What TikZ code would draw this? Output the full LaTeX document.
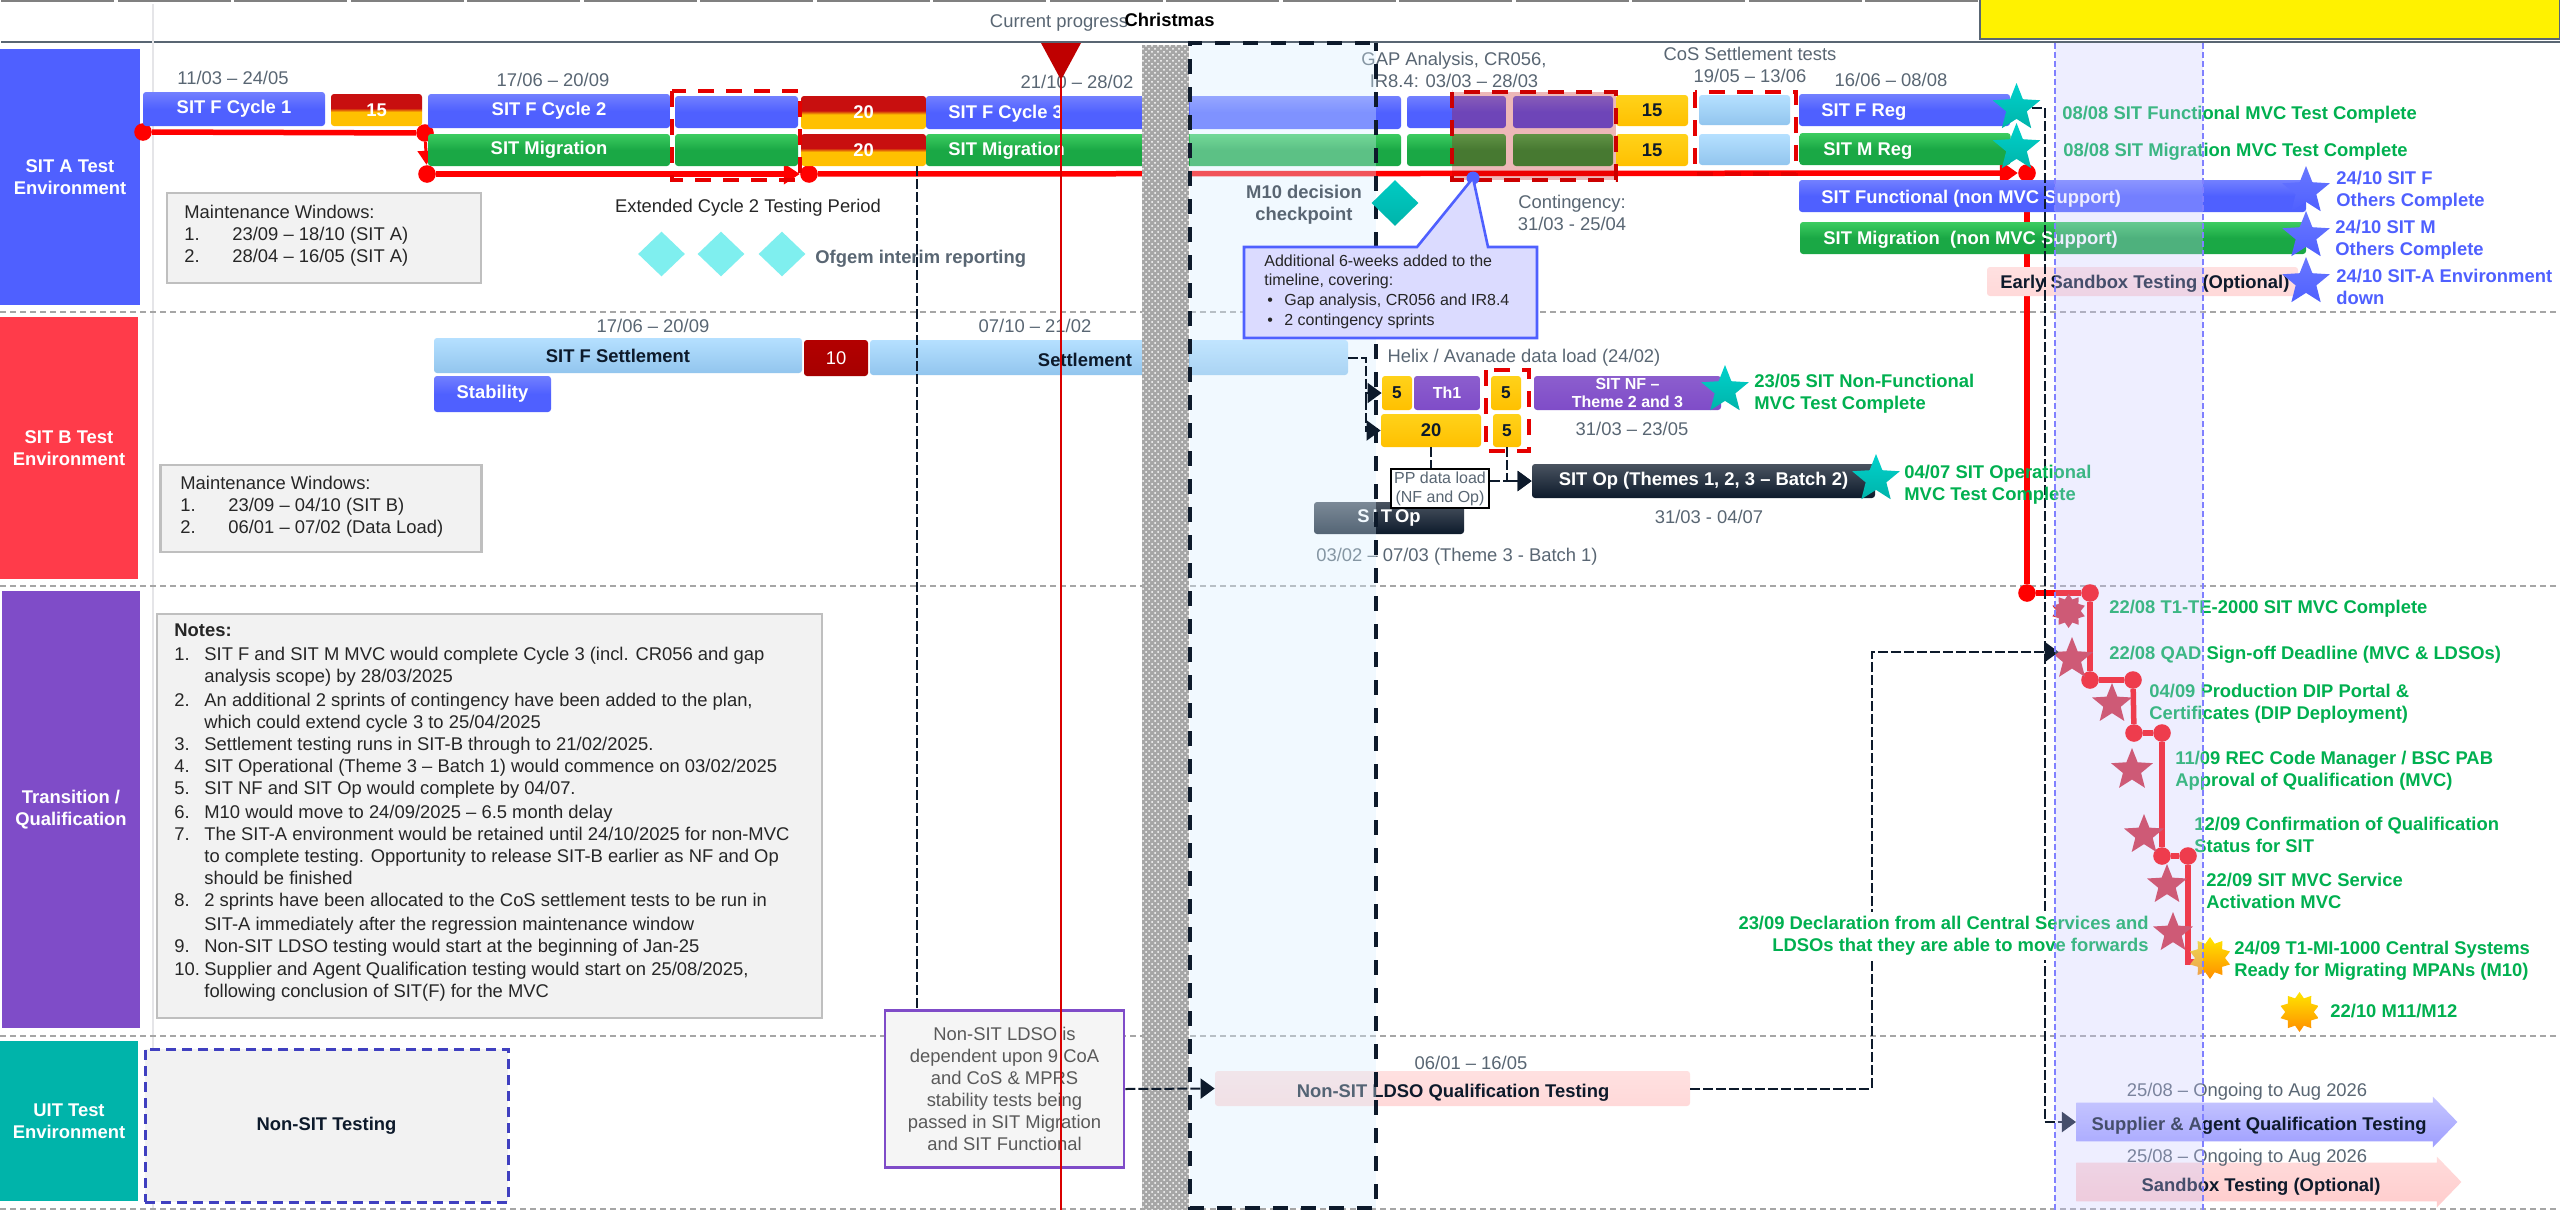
\documentclass[tikz,border=0pt]{standalone}
\usepackage{fontspec}
\setmainfont{Liberation Sans}
\usetikzlibrary{arrows.meta,patterns,shapes.geometric,shapes.arrows}
\definecolor{blueenv}{HTML}{4F60FF}
\definecolor{redenv}{HTML}{FF3B4A}
\definecolor{purpleenv}{HTML}{7F4CC8}
\definecolor{tealenv}{HTML}{00B4AA}
\definecolor{greenms}{HTML}{00B050}
\definecolor{slate}{HTML}{596673}
\definecolor{navy}{HTML}{0D1A2B}
\definecolor{hairline}{HTML}{A6A6A6}
\definecolor{redtop}{HTML}{C80F0F}
\definecolor{goldlow}{HTML}{FFC000}
\definecolor{goldtop}{HTML}{FFD21A}
\definecolor{greentop}{HTML}{3CCC60}
\definecolor{greenlow}{HTML}{1AA845}
\definecolor{skytop}{HTML}{B5E0FF}
\definecolor{skylow}{HTML}{92C5EE}
\definecolor{aqua}{HTML}{7FEFEF}
\definecolor{starred}{HTML}{D22C3C}
\definecolor{boxblue}{HTML}{4040C0}
\pgfdeclareverticalshading{redgold}{100bp}{color(0bp)=(goldlow); color(25bp)=(goldlow); color(47bp)=(goldlow); color(53bp)=(redtop); color(75bp)=(redtop); color(100bp)=(redtop)}
\tikzset{
  wh/.style 2 args={minimum width=#1*0.5pt,minimum height=#2*0.5pt},
  base/.style={font=\fontsize{9.2}{11}\selectfont,inner sep=0pt},
  small/.style={font=\fontsize{8}{9.5}\selectfont,inner sep=0pt},
  bold/.style={font=\fontsize{9.2}{11}\selectfont\bfseries,inner sep=0pt},
  datetext/.style={base,text=slate,align=center},
  envbox/.style={bold,text=white,align=center},
  pill/.style={bold,rounded corners=1.5pt,align=center},
  bluebar/.style={pill,text=white,top color=blueenv!80!white,bottom color=blueenv,middle color=blueenv},
  greenbar/.style={pill,text=white,top color=greentop,bottom color=greenlow,middle color=greenlow},
  lightbar/.style={pill,text=navy,top color=skytop,bottom color=skylow},
  goldbar/.style={pill,text=navy,top color=goldtop,bottom color=goldlow},
  purplebar/.style={pill,text=white,top color=purpleenv!90!white,bottom color=purpleenv},
  navybar/.style={pill,text=white,top color=navy!75!white,bottom color=navy},
  pinkbar/.style={pill,text=navy,top color=red!12!white,bottom color=red!15!white},
  mixbar/.style={pill,text=white,shading=redgold},
  darkredbar/.style={pill,text=white,top color=red!70!black,bottom color=red!65!black},
  whitelabel/.style={bold,text=white,anchor=west},
  notebox/.style={draw=black!25,line width=1.2pt,fill=black!5,inner sep=0pt},
  milestone/.style={bold,text=greenms,align=left,anchor=west},
  bluemark/.style={bold,text=blueenv,align=left,anchor=west},
  starmark/.style={star,star points=5,star point ratio=2.3,inner sep=0pt,minimum size=#1*1pt},
  tealstar/.style={starmark=#1,top color=tealenv!60!cyan,bottom color=tealenv},
  bluestar/.style={starmark=#1,top color=blueenv!85!white,bottom color=blueenv},
  redstar/.style={starmark=#1,fill=starred},
  burst/.style={star,star points=10,star point ratio=1.4,inner sep=0pt,minimum size=#1*1pt},
  redline/.style={red,line width=2.75pt},
  reddot/.style={circle,fill=red,inner sep=0pt,minimum size=8.8pt},
  redbox/.style={red!90!black,line width=1.6pt,dash pattern=on 8pt off 6pt},
  link/.style={navy,line width=1pt,dash pattern=on 5pt off 1.5pt},
  linktip/.style={link,-{Triangle[length=7pt,width=10pt]}},
  rowline/.style={hairline,line width=1pt,dash pattern=on 3pt off 2pt},
  bigarrow/.style={single arrow,inner xsep=0pt,inner ysep=9.5pt,single arrow head extend=3pt,single arrow tip angle=92}
}
\begin{document}
\begin{tikzpicture}[x=0.5pt,y=-0.5pt]
  \useasboundingbox[fill=white] (0,0) rectangle (2560,1210);

  \foreach \i in {0,...,16}
    \draw[black!50,line width=1pt] ({\i*116.5+1},0.5) -- ({\i*116.5+114},0.5);
  \draw[slate,line width=1.2pt] (1,42) -- (2560,42);
  \draw[blue!10!black!10,line width=0.8pt] (153,4) -- (153,1208);
  \foreach \y in {312,586,1036,1209}
    \draw[rowline] (0,\y) -- (2560,\y);
  \node[draw=slate,line width=1.2pt,fill=yellow,wh={580}{40}] (yellowbox) at (2270,19) {};

  \node[envbox,fill=blueenv,wh={140}{256}] (sita) at (70,177) {SIT A Test\\Environment};
  \node[envbox,fill=redenv,wh={138}{262}] (sitb) at (69,448) {SIT B Test\\Environment};
  \node[envbox,fill=purpleenv,wh={138}{437}] (transition) at (71,809.5) {Transition /\\Qualification};
  \node[envbox,fill=tealenv,wh={138}{160}] (uit) at (69,1121) {UIT Test\\Environment};

  \node[reddot] (dot1) at (143,132) {};
  \node[reddot] (dot2) at (425,133) {};
  \node[reddot] (dot3) at (427,174) {};
  \node[reddot] (dot4) at (809,174) {};
  \node[reddot] (dot5) at (2027,173) {};
  \node[reddot] (dot6) at (2027,593) {};
  \node[reddot] (dot7) at (2090,593) {};
  \node[reddot] (dot8) at (2090,680) {};
  \node[reddot] (dot9) at (2133,680) {};
  \node[reddot] (dot10) at (2134,733) {};
  \node[reddot] (dot11) at (2162,733) {};
  \node[reddot] (dot12) at (2162,856) {};
  \node[reddot] (dot13) at (2188,856) {};
  \coordinate (m10end) at (2205,962);
  \draw[redline] (dot1) -- (dot2);
  \draw[red,line width=1.5pt,-{Triangle[length=7pt,width=8pt]}] (dot2) -- (dot3);
  \draw[redline,-{Triangle[length=8pt,width=10pt]}] (dot3) -- (dot4);
  \draw[redline,-{Triangle[length=9pt,width=12pt]}] (dot4) -- (dot5);
  \draw[redline] (dot5) -- (dot6);
  \draw[redline] (dot6) -- (dot7);
  \draw[redline] (dot7) -- (dot8);
  \draw[redline] (dot8) -- (dot9);
  \draw[redline] (dot9) -- (dot10);
  \draw[redline] (dot10) -- (dot11);
  \draw[redline] (dot11) -- (dot12);
  \draw[redline] (dot12) -- (dot13);
  \draw[redline] (dot13) |- (m10end);

  \node[datetext] (dateone) at (233,78) {11/03 – 24/05};
  \node[datetext] (datetwo) at (553,80) {17/06 – 20/09};
  \node[datetext] (datethree) at (1077,82) {21/10 – 28/02};
  \node[datetext] (gapdate) at (1454,70) {GAP Analysis, CR056,\\[0pt]IR8.4: 03/03 – 28/03};
  \node[datetext] (cosdate) at (1750,65) {CoS Settlement tests\\19/05 – 13/06};
  \node[datetext] (regdate) at (1891,80) {16/06 – 08/08};

  \node[bluebar,wh={182}{34}] (cycleone) at (234,109) {SIT F Cycle 1};
  \node[mixbar,wh={91}{32}] (fifteena) at (376.5,110) {\raisebox{-1.5pt}{15}};
  \node[bluebar,wh={242}{34}] (cycletwo) at (549,111) {SIT F Cycle 2};
  \node[greenbar,wh={242}{32}] (migtwo) at (549,150) {SIT Migration};
  \node[bluebar,wh={123}{32}] (extblue) at (736.5,112) {};
  \node[greenbar,wh={123}{32}] (extgreen) at (736.5,150) {};
  \node[mixbar,wh={125}{33}] (twentya) at (863.5,112.5) {\raisebox{-1.5pt}{20}};
  \node[mixbar,wh={125}{32}] (twentyb) at (863.5,150) {\raisebox{-1pt}{20}};
  \node[bluebar,wh={475}{33}] (cyclethree) at (1163.5,112.5) {};
  \node[whitelabel] (cyclethreetext) at (948,114) {SIT F Cycle 3};
  \node[greenbar,wh={475}{32}] (migthree) at (1163.5,150) {};
  \node[whitelabel] (migthreetext) at (948,151) {SIT Migration};
  \node[bluebar,wh={99}{32}] (gapblue) at (1456.5,112) {};
  \node[greenbar,wh={99}{32}] (gapgreen) at (1456.5,150) {};
  \node[bluebar,wh={100}{32}] (contblue) at (1563,112) {};
  \node[greenbar,wh={100}{32}] (contgreen) at (1563,150) {};
  \node[goldbar,wh={72}{31}] (fifteenc) at (1652,110.5) {15};
  \node[goldbar,wh={72}{32}] (fifteend) at (1652,150) {15};
  \node[lightbar,wh={91}{30}] (cosone) at (1744.5,110) {};
  \node[lightbar,wh={91}{31}] (costwo) at (1744.5,149.5) {};
  \node[bluebar,wh={211}{32}] (freg) at (1904.5,110) {};
  \node[whitelabel] (fregtext) at (1821,112) {SIT F Reg};
  \node[greenbar,wh={211}{32}] (mreg) at (1905,149) {};
  \node[whitelabel] (mregtext) at (1823,151) {SIT M Reg};
  \node[bluebar,wh={507}{32}] (nonf) at (2052.5,196) {};
  \node[whitelabel] (nonftext) at (1821,199) {SIT Functional (non MVC Support)};
  \node[greenbar,wh={506}{32}] (nonm) at (2053,238) {};
  \node[whitelabel] (nonmtext) at (1823,240) {SIT Migration \ (non MVC Support)};
  \node[pinkbar,wh={311}{29}] (earlybox) at (2142.5,281.5) {};
  \node[bold,text=navy,anchor=west] (earlytext) at (2000,284) {Early Sandbox Testing (Optional)};

  \draw[redbox] (672,91) rectangle (800,180);
  \draw[redbox] (1695,92) rectangle (1796,174);

  \node[notebox,wh={314}{90}] (maintaa) at (324,238) {};
  \node[base,text=black!85,align=left,anchor=north west] (maintatext) at (184,205) {Maintenance Windows:\\\makebox[24pt][l]{1.}23/09 – 18/10 (SIT A)\\\makebox[24pt][l]{2.}28/04 – 16/05 (SIT A)};
  \node[base,text=black!85] (extended) at (748,208) {Extended Cycle 2 Testing Period};
  \node[diamond,aspect=1,inner sep=0pt,wh={47}{45},fill=aqua] (ofgema) at (661.5,254) {};
  \node[diamond,aspect=1,inner sep=0pt,wh={47}{45},fill=aqua] (ofgemb) at (721,254) {};
  \node[diamond,aspect=1,inner sep=0pt,wh={47}{45},fill=aqua] (ofgemc) at (782,254) {};
  \node[bold,text=slate,anchor=west] (ofgem) at (815,259) {Ofgem interim reporting};

  \node[datetext] (settledate) at (653,326) {17/06 – 20/09};
  \node[datetext] (settledatetwo) at (1035,326) {07/10 – 21/02};
  \node[lightbar,wh={368}{35}] (sitfsettle) at (618,355.5) {\raisebox{-1pt}{SIT F Settlement}};
  \node[darkredbar,wh={64}{36}] (tendays) at (836,358) {\mdseries 10};
  \node[lightbar,wh={478}{35}] (settlement) at (1109,357.5) {};
  \node[bold,text=navy] (settletext) at (1085,360) {Settlement};
  \node[bluebar,wh={117}{36}] (stability) at (492.5,394) {Stability};

  \node[notebox,wh={321}{87}] (maintb) at (321,508.5) {};
  \node[base,text=black!85,align=left,anchor=north west] (maintbtext) at (180,476) {Maintenance Windows:\\\makebox[24pt][l]{1.}23/09 – 04/10 (SIT B)\\\makebox[24pt][l]{2.}06/01 – 07/02 (Data Load)};

  \node[goldbar,wh={30}{34},font=\fontsize{8.6}{10}\selectfont\bfseries] (fivea) at (1397,393) {5};
  \node[purplebar,wh={66}{34},font=\fontsize{8}{10}\selectfont\bfseries] (thone) at (1447,393) {Th1};
  \node[goldbar,wh={30}{34},font=\fontsize{8.6}{10}\selectfont\bfseries] (fiveb) at (1506,393) {5};
  \node[purplebar,wh={187}{34},font=\fontsize{8}{9}\selectfont\bfseries] (sitnf) at (1627.5,393) {SIT NF –\\Theme 2 and 3};
  \node[goldbar,wh={100}{33}] (twentyc) at (1431,430.5) {20};
  \node[goldbar,wh={28}{33},font=\fontsize{8.6}{10}\selectfont\bfseries] (fivec) at (1507,430.5) {5};
  \draw[redbox] (1486,370) rectangle (1529,451);
  \node[navybar,wh={343}{34}] (sitop) at (1703.5,481) {SIT Op (Themes 1, 2, 3 – Batch 2)};
  \node[navybar,wh={150}{32}] (sitopa) at (1389,518) {S\kern1.5pt I\kern1.5pt T\kern1.5pt Op};
  \node[datetext] (helix) at (1524,358) {Helix / Avanade data load (24/02)};
  \node[datetext] (nfdate) at (1632,429) {31/03 – 23/05};
  \node[datetext] (opdate) at (1709,517) {31/03 - 04/07};
  \node[datetext] (opadate) at (1457,557) {03/02 – 07/03 (Theme 3 - Batch 1)};

  \node[notebox,wh={665}{404}] (notes) at (489.5,816) {};
  \node[base,text=black!85,align=left,anchor=north west] (notestext) at (174,623) {\textbf{Notes:}\\[1pt]
    \makebox[15pt][l]{1.}SIT F and SIT M MVC would complete Cycle 3 (incl. CR056 and gap\\
    \hspace*{15pt}analysis scope) by 28/03/2025\\[1pt]
    \makebox[15pt][l]{2.}An additional 2 sprints of contingency have been added to the plan,\\
    \hspace*{15pt}which could extend cycle 3 to 25/04/2025\\
    \makebox[15pt][l]{3.}Settlement testing runs in SIT-B through to 21/02/2025.\\
    \makebox[15pt][l]{4.}SIT Operational (Theme 3 – Batch 1) would commence on 03/02/2025\\
    \makebox[15pt][l]{5.}SIT NF and SIT Op would complete by 04/07.\\[1pt]
    \makebox[15pt][l]{6.}M10 would move to 24/09/2025 – 6.5 month delay\\
    \makebox[15pt][l]{7.}The SIT-A environment would be retained until 24/10/2025 for non-MVC\\
    \hspace*{15pt}to complete testing. Opportunity to release SIT-B earlier as NF and Op\\
    \hspace*{15pt}should be finished\\
    \makebox[15pt][l]{8.}2 sprints have been allocated to the CoS settlement tests to be run in\\[1pt]
    \hspace*{15pt}SIT-A immediately after the regression maintenance window\\
    \makebox[15pt][l]{9.}Non-SIT LDSO testing would start at the beginning of Jan-25\\[0.5pt]
    \makebox[15pt][l]{10.}Supplier and Agent Qualification testing would start on 25/08/2025,\\
    \hspace*{15pt}following conclusion of SIT(F) for the MVC};

  \node[bold,text=navy,fill=black!5,draw=boxblue,line width=1.5pt,dash pattern=on 5pt off 3pt,wh={363}{153}] (nonsit) at (326.5,1125.5) {Non-SIT Testing};
  \node[pinkbar,wh={475}{35}] (ldsobar) at (1452.5,1088.5) {};
  \node[bold,text=navy] (ldsotext) at (1453,1093) {Non-SIT LDSO Qualification Testing};
  \node[datetext] (ldsodate) at (1471,1063) {06/01 – 16/05};
  \node[datetext] (supplierdate) at (2247,1092) {25/08 – Ongoing to Aug 2026};
  \node[bigarrow,minimum height=190.5pt,top color=blue!22!white,bottom color=blue!38!white] (supplier) at (2257.5,1122) {};
  \node[bold,text=navy] (suppliertext) at (2259,1126) {Supplier \& Agent Qualification Testing};
  \node[bigarrow,minimum height=192.5pt,top color=red!14!white,bottom color=red!20!white] (sandbox) at (2259.5,1182) {};
  \node[datetext] (sandboxdate) at (2247,1158) {25/08 – Ongoing to Aug 2026};
  \node[bold,text=navy] (sandboxtext) at (2261,1187) {Sandbox Testing (Optional)};

  \fill[black!35] (1142,45) rectangle (1189,1210);
  \fill[pattern=crosshatch dots,pattern color=white] (1142,45) rectangle (1189,1210);
  \fill[blue!40!cyan!15!white,opacity=0.35] (1190,43) rectangle (1376,1208);
  \draw[navy,line width=1.7pt,dash pattern=on 7.5pt off 6.5pt,dash phase=3.5pt] (1376,43) -- (1376,1208) -- (1190,1208) -- (1190,43) -- cycle;
  \fill[red!75!black,opacity=0.28] (1452,92) rectangle (1616,180);
  \draw[redbox,red!80!black] (1452,92) rectangle (1616,180);

  \node[tealstar=25] (fregstar) at (2016.5,108) {};
  \node[tealstar=25] (mregstar) at (2016.5,148) {};
  \node[tealstar=25] (nfstar) at (1725,390) {};
  \node[tealstar=25] (opstar) at (1876,479) {};
  \node[bluestar=25] (fstar) at (2306,191) {};
  \node[bluestar=25] (mstar) at (2306,236) {};
  \node[bluestar=25] (envstar) at (2306,282) {};
  \node[burst=17,fill=starred] (testar) at (2068.6,611) {};
  \node[redstar=22] (qadstar) at (2072,659) {};
  \node[redstar=21] (dipstar) at (2112,704) {};
  \node[redstar=22] (recstar) at (2132,770) {};
  \node[redstar=21] (statusstar) at (2144,835) {};
  \node[redstar=21] (servicestar) at (2167,885) {};
  \node[redstar=21] (declstar) at (2173,933) {};
  \node[burst=21,top color=yellow!80!orange,bottom color=orange!90!yellow] (m10star) at (2210,958) {};
  \node[burst=20,top color=yellow!80!orange,bottom color=orange!90!yellow] (m11star) at (2299.5,1012) {};
  \node[diamond,aspect=1,inner sep=0pt,wh={47}{46},top color=tealenv!70!cyan,bottom color=tealenv] (m10diamond) at (1395,203) {};

  \coordinate (regjog) at (2044.5,300);
  \coordinate (settlejog) at (1366,400);
  \coordinate (ldsojog) at (1872,652);
  \coordinate (depend) at (916.5,166);
  \draw[linktip] (fregstar.east) -| (regjog) |- (supplier.tail);
  \draw[linktip] (settlement.east) -| (settlejog) |- (fivea.west);
  \draw[linktip] (settlejog) |- (twentyc.west);
  \node[draw=black,line width=1pt,fill=white,small,text=slate,align=center,wh={98}{39}] (ppload) at (1440,488.5) {PP data load\\(NF and Op)};
  \draw[link] (twentyc.south) -- (twentyc.south |- ppload.north);
  \draw[linktip] (fivec.south) |- (sitop.west);
  \draw[linktip] (ppload.east |- sitop.west) -- (sitop.west);
  \node[base,text=black!65,align=center,draw=purpleenv,line width=1.25pt,fill=black!4,wh={239}{157}] (ldsonote) at (1004.5,1089) {Non-SIT LDSO is\\dependent upon 9 CoA\\and CoS \& MPRS\\stability tests being\\passed in SIT Migration\\and SIT Functional};
  \draw[link] (depend) -- (depend |- ldsonote.north);
  \draw[linktip] (ldsonote.east) -- (ldsobar.west);
  \draw[linktip] (ldsobar.east) -| (ldsojog) -- (ldsojog -| qadstar.west);

  \node[milestone] (fregdone) at (2062,115) {08/08 SIT Functional MVC Test Complete};
  \node[milestone] (mregdone) at (2063,152) {08/08 SIT Migration MVC Test Complete};
  \node[bluemark] (fdone) at (2336,191) {24/10 SIT F\\Others Complete};
  \node[bluemark] (mdone) at (2335,240) {24/10 SIT M\\Others Complete};
  \node[bluemark] (envdone) at (2336,287) {24/10 SIT-A Environment\\down};
  \node[milestone] (nfdone) at (1754,394) {23/05 SIT Non-Functional\\MVC Test Complete};
  \node[milestone] (opdone) at (1904,485) {04/07 SIT Operational\\MVC Test Complete};
  \node[milestone] (tedone) at (2109,609) {22/08 T1-TE-2000 SIT MVC Complete};
  \node[milestone] (qaddone) at (2109,655) {22/08 QAD Sign-off Deadline (MVC \& LDSOs)};
  \node[milestone] (dipdone) at (2149,704) {04/09 Production DIP Portal \&\\Certificates (DIP Deployment)};
  \node[milestone] (recdone) at (2175,771) {11/09 REC Code Manager / BSC PAB\\Approval of Qualification (MVC)};
  \node[milestone] (statusdone) at (2194,835) {12/09 Confirmation of Qualification\\Status for SIT};
  \node[milestone] (servicedone) at (2206,891) {22/09 SIT MVC Service\\Activation MVC};
  \node[milestone,anchor=east,align=right,fill=white,inner sep=2pt] (decldone) at (2153,936) {23/09 Declaration from all Central Services and\\LDSOs that they are able to move forwards};
  \node[milestone] (m10done) at (2234,961) {24/09 T1-MI-1000 Central Systems\\Ready for Migrating MPANs (M10)};
  \node[milestone] (m11done) at (2330,1011) {22/10 M11/M12};

  \fill[blue!22!white,opacity=0.3] (2055,43) rectangle (2203,1210);
  \draw[blue!50!white,line width=1pt,dash pattern=on 3pt off 1.5pt] (2055,43) -- (2055,1210);
  \draw[blue!50!white,line width=1pt,dash pattern=on 3pt off 1.5pt] (2203,43) -- (2203,1210);

  \node[circle,fill=blueenv,inner sep=0pt,minimum size=6.5pt] (bluedot) at (1473,178) {};
  \draw[blueenv,line width=1.3pt,fill=blue!14!white] (1244,247) -- (1417,247) -- (bluedot.center) -- (1488,247) -- (1537,247) -- (1537,338) -- (1244,338) -- cycle;
  \node[small,text=black!85,align=left,anchor=north west] (callouttext) at (1264,255) {Additional 6-weeks added to the\\[0pt]timeline, covering:\\[0.5pt]\hspace*{1.5pt}\makebox[8.5pt][l]{\textbullet}Gap analysis, CR056 and IR8.4\\[0.5pt]\hspace*{1.5pt}\makebox[8.5pt][l]{\textbullet}2 contingency sprints};
  \node[bold,text=slate,align=center] (m10text) at (1304,205) {M10 decision\\checkpoint};
  \node[datetext] (conttext) at (1572,213) {Contingency:\\31/03 - 25/04};

  \node[base,text=slate] (progress) at (1059,23) {Current progress};
  \node[bold,text=black] (christmas) at (1169.5,20) {Christmas};
  \coordinate (progressend) at (1061,1210);
  \fill[red!75!black] (1041,43) -- (1081,43) -- (1061,80) -- cycle;
  \draw[red!85!black,line width=1pt] (1061,78) -- (progressend);
\end{tikzpicture}
\end{document}
